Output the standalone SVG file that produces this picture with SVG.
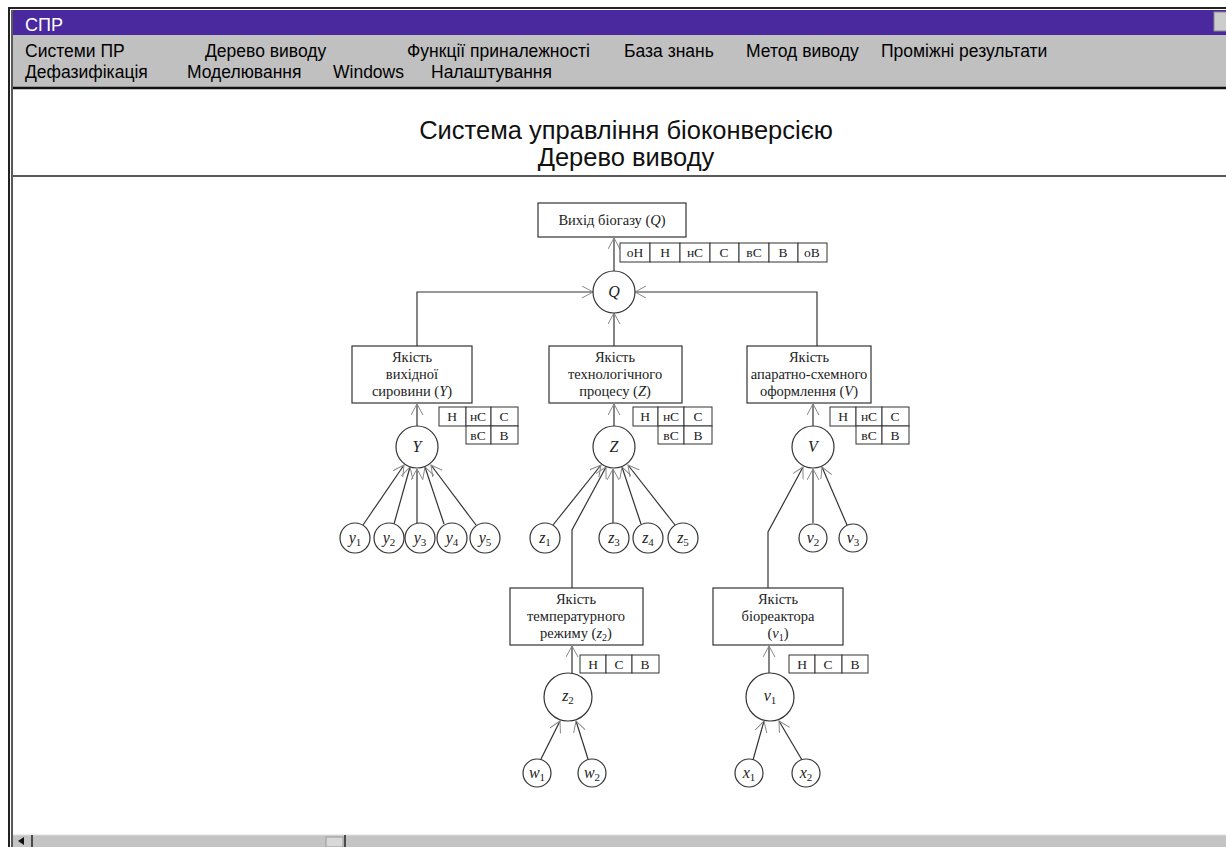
<svg xmlns="http://www.w3.org/2000/svg" width="1226" height="847" viewBox="0 0 1226 847">
<defs>
<marker id="arr" markerUnits="userSpaceOnUse" markerWidth="14" markerHeight="14" refX="11" refY="6" orient="auto">
<path d="M0,0 L11,6 L0,12" fill="none" stroke="#888" stroke-width="1"/>
</marker>
<style>
.menu{font-family:"Liberation Sans",Arial,sans-serif;font-size:17.5px;fill:#000}
.hdr{font-family:"Liberation Sans",Arial,sans-serif;font-size:25.5px;fill:#111;text-anchor:middle}
.box{fill:#fff;stroke:#333;stroke-width:1.2}
.cell{fill:#fff;stroke:#333;stroke-width:1}
.nd{fill:#fff;stroke:#333;stroke-width:1.2}
.t{font-family:"Liberation Serif","Times New Roman",serif;font-size:14.5px;fill:#222;text-anchor:middle}
.c{font-family:"Liberation Serif","Times New Roman",serif;font-size:13.5px;fill:#222;text-anchor:middle}
.v{font-family:"Liberation Serif","Times New Roman",serif;font-size:16px;font-style:italic;fill:#222;text-anchor:middle}
.sub{font-size:11px;font-style:normal}
.ln{fill:none;stroke:#333;stroke-width:1.2}
.ar{fill:none;stroke:#333;stroke-width:1.2;marker-end:url(#arr)}
</style>
</defs>
<rect x="0" y="0" width="1226" height="847" fill="#fff"/>
<g id="window">
<rect x="9" y="8" width="1220" height="845" fill="none" stroke="#222" stroke-width="2"/>
<line x1="12" y1="10" x2="12" y2="847" stroke="#222" stroke-width="1.5"/>
<rect x="13" y="10" width="1213" height="25" fill="#4a289e"/>
<text x="25" y="31" font-family="'Liberation Sans',Arial,sans-serif" font-size="18" fill="#fff">СПР</text>
<rect x="1214" y="12" width="14" height="19" fill="#ccc" stroke="#888"/>
<rect x="13" y="35" width="1213" height="52" fill="#c0c0c0"/>
<line x1="13" y1="88" x2="1226" y2="88" stroke="#111" stroke-width="2.5"/>
<line x1="13" y1="176" x2="1226" y2="176" stroke="#222" stroke-width="1.5"/>
<rect x="13" y="835" width="1213" height="12" fill="#c4c4c4"/>
<line x1="13" y1="835" x2="1226" y2="835" stroke="#ddd"/>
<path d="M18,841 L24,837 L24,845 Z" fill="#111"/>
<line x1="32" y1="835" x2="32" y2="847" stroke="#222" stroke-width="1.5"/>
<rect x="326" y="837" width="17" height="10" fill="#d8d8d8" stroke="#999"/>
<line x1="345" y1="835" x2="345" y2="847" stroke="#222" stroke-width="1.5"/>
</g>
<g id="menu">
<text class="menu" x="25" y="57">Системи ПР</text>
<text class="menu" x="205" y="57">Дерево виводу</text>
<text class="menu" x="407" y="57">Функції приналежності</text>
<text class="menu" x="624" y="57">База знань</text>
<text class="menu" x="746" y="57">Метод виводу</text>
<text class="menu" x="881" y="57">Проміжні результати</text>
<text class="menu" x="25" y="78">Дефазифікація</text>
<text class="menu" x="187" y="78">Моделювання</text>
<text class="menu" x="333" y="78">Windows</text>
<text class="menu" x="431" y="78">Налаштування</text>
</g>
<g id="header">
<text class="hdr" x="626" y="139">Система управління біоконверсією</text>
<text class="hdr" x="626" y="166">Дерево виводу</text>
</g>
<g id="connectors">
<line class="ar" x1="614" y1="271" x2="614" y2="238"/>
<polyline class="ar" points="417,346 417,292 593,292"/>
<polyline class="ar" points="817,346 817,292 635,292"/>
<line class="ar" x1="614" y1="346" x2="614" y2="313"/>
<line class="ar" x1="417" y1="426" x2="417" y2="404"/>
<line class="ar" x1="614" y1="426" x2="614" y2="404"/>
<line class="ar" x1="813" y1="426" x2="813" y2="404"/>
<line class="ar" x1="363" y1="525" x2="404" y2="465"/>
<line class="ar" x1="394" y1="524" x2="410" y2="467"/>
<line class="ar" x1="417" y1="523" x2="417" y2="469"/>
<line class="ar" x1="444" y1="524" x2="425" y2="467"/>
<line class="ar" x1="476" y1="525" x2="431" y2="465"/>
<line class="ar" x1="553" y1="525" x2="601" y2="465"/>
<polyline class="ar" points="572,588 572,530 606,467"/>
<line class="ar" x1="613" y1="523" x2="613" y2="469"/>
<line class="ar" x1="641" y1="524" x2="622" y2="467"/>
<line class="ar" x1="675" y1="525" x2="628" y2="465"/>
<polyline class="ar" points="768,588 768,532 803,467"/>
<line class="ar" x1="813" y1="523" x2="813" y2="469"/>
<line class="ar" x1="847" y1="525" x2="822" y2="467"/>
<line class="ar" x1="572" y1="673" x2="572" y2="646"/>
<line class="ar" x1="541" y1="759" x2="560" y2="721"/>
<line class="ar" x1="588" y1="759" x2="576" y2="721"/>
<line class="ar" x1="769" y1="673" x2="769" y2="646"/>
<line class="ar" x1="753" y1="760" x2="764" y2="721"/>
<line class="ar" x1="802" y1="760" x2="779" y2="721"/>
</g>
<g id="node-Qbox">
<rect class="box" x="538" y="203" width="148" height="34"/>
<text class="t" x="612" y="225">Вихід біогазу (<tspan font-style="italic">Q</tspan>)</text>
</g>
<g id="terms-Q">
<rect class="cell" x="620" y="243" width="30" height="19"/>
<rect class="cell" x="650" y="243" width="30" height="19"/>
<rect class="cell" x="680" y="243" width="30" height="19"/>
<rect class="cell" x="710" y="243" width="29" height="19"/>
<rect class="cell" x="739" y="243" width="30" height="19"/>
<rect class="cell" x="769" y="243" width="29" height="19"/>
<rect class="cell" x="798" y="243" width="29" height="19"/>
<text class="c" x="635" y="257">оН</text>
<text class="c" x="665" y="257">Н</text>
<text class="c" x="695" y="257">нС</text>
<text class="c" x="724" y="257">С</text>
<text class="c" x="754" y="257">вС</text>
<text class="c" x="783" y="257">В</text>
<text class="c" x="812" y="257">оВ</text>
</g>
<g id="node-Q">
<circle class="nd" cx="614" cy="292" r="21"/>
<text class="v" x="614" y="297">Q</text>
</g>
<g id="node-Ybox">
<rect class="box" x="352" y="346" width="120" height="57"/>
<text class="t" x="412" y="362">Якість</text>
<text class="t" x="412" y="379">вихідної</text>
<text class="t" x="412" y="396">сировини (<tspan font-style="italic">Y</tspan>)</text>
</g>
<g id="node-Zbox">
<rect class="box" x="549" y="346" width="133" height="57"/>
<text class="t" x="615" y="362">Якість</text>
<text class="t" x="615" y="379">технологічного</text>
<text class="t" x="615" y="396">процесу (<tspan font-style="italic">Z</tspan>)</text>
</g>
<g id="node-Vbox">
<rect class="box" x="747" y="346" width="124" height="57"/>
<text class="t" x="809" y="362">Якість</text>
<text class="t" x="809" y="379">апаратно-схемного</text>
<text class="t" x="809" y="396">оформлення (<tspan font-style="italic">V</tspan>)</text>
</g>
<g id="terms-Y">
<rect class="cell" x="439" y="407" width="27" height="19"/>
<rect class="cell" x="466" y="407" width="25" height="19"/>
<rect class="cell" x="491" y="407" width="27" height="19"/>
<rect class="cell" x="466" y="426" width="25" height="18"/>
<rect class="cell" x="491" y="426" width="27" height="18"/>
<text class="c" x="452" y="421">Н</text><text class="c" x="478" y="421">нС</text><text class="c" x="504" y="421">С</text>
<text class="c" x="478" y="440">вС</text><text class="c" x="504" y="440">В</text>
</g>
<g id="terms-Z">
<rect class="cell" x="633" y="407" width="25" height="19"/>
<rect class="cell" x="658" y="407" width="26" height="19"/>
<rect class="cell" x="684" y="407" width="28" height="19"/>
<rect class="cell" x="658" y="426" width="26" height="18"/>
<rect class="cell" x="684" y="426" width="28" height="18"/>
<text class="c" x="645" y="421">Н</text><text class="c" x="671" y="421">нС</text><text class="c" x="698" y="421">С</text>
<text class="c" x="671" y="440">вС</text><text class="c" x="698" y="440">В</text>
</g>
<g id="terms-V">
<rect class="cell" x="830" y="407" width="26" height="19"/>
<rect class="cell" x="856" y="407" width="26" height="19"/>
<rect class="cell" x="882" y="407" width="27" height="19"/>
<rect class="cell" x="856" y="426" width="26" height="18"/>
<rect class="cell" x="882" y="426" width="27" height="18"/>
<text class="c" x="843" y="421">Н</text><text class="c" x="869" y="421">нС</text><text class="c" x="895" y="421">С</text>
<text class="c" x="869" y="440">вС</text><text class="c" x="895" y="440">В</text>
</g>
<g id="node-Y"><circle class="nd" cx="417" cy="447" r="21"/><text class="v" x="417" y="452">Y</text></g>
<g id="node-Z"><circle class="nd" cx="614" cy="447" r="21"/><text class="v" x="614" y="452">Z</text></g>
<g id="node-V"><circle class="nd" cx="813" cy="447" r="21"/><text class="v" x="813" y="452">V</text></g>
<g id="node-y1"><circle class="nd" cx="355" cy="538" r="15"/><text class="v" x="355" y="543">y<tspan class="sub" dy="3">1</tspan></text></g>
<g id="node-y2"><circle class="nd" cx="389" cy="538" r="15"/><text class="v" x="389" y="543">y<tspan class="sub" dy="3">2</tspan></text></g>
<g id="node-y3"><circle class="nd" cx="420" cy="538" r="15"/><text class="v" x="420" y="543">y<tspan class="sub" dy="3">3</tspan></text></g>
<g id="node-y4"><circle class="nd" cx="452" cy="538" r="15"/><text class="v" x="452" y="543">y<tspan class="sub" dy="3">4</tspan></text></g>
<g id="node-y5"><circle class="nd" cx="485" cy="538" r="15"/><text class="v" x="485" y="543">y<tspan class="sub" dy="3">5</tspan></text></g>
<g id="node-z1"><circle class="nd" cx="545" cy="538" r="15"/><text class="v" x="545" y="543">z<tspan class="sub" dy="3">1</tspan></text></g>
<g id="node-z3"><circle class="nd" cx="614" cy="538" r="15"/><text class="v" x="614" y="543">z<tspan class="sub" dy="3">3</tspan></text></g>
<g id="node-z4"><circle class="nd" cx="648" cy="538" r="15"/><text class="v" x="648" y="543">z<tspan class="sub" dy="3">4</tspan></text></g>
<g id="node-z5"><circle class="nd" cx="683" cy="538" r="15"/><text class="v" x="683" y="543">z<tspan class="sub" dy="3">5</tspan></text></g>
<g id="node-v2"><circle class="nd" cx="813" cy="538" r="14"/><text class="v" x="813" y="543">v<tspan class="sub" dy="3">2</tspan></text></g>
<g id="node-v3"><circle class="nd" cx="853" cy="538" r="14"/><text class="v" x="853" y="543">v<tspan class="sub" dy="3">3</tspan></text></g>
<g id="node-z2box">
<rect class="box" x="510" y="588" width="133" height="57"/>
<text class="t" x="576" y="604">Якість</text>
<text class="t" x="576" y="621">температурного</text>
<text class="t" x="576" y="638">режиму (<tspan font-style="italic">z</tspan><tspan font-size="10" dy="3">2</tspan><tspan dy="-3">)</tspan></text>
</g>
<g id="terms-z2">
<rect class="cell" x="580" y="655" width="26" height="18"/>
<rect class="cell" x="606" y="655" width="26" height="18"/>
<rect class="cell" x="632" y="655" width="27" height="18"/>
<text class="c" x="593" y="669">Н</text><text class="c" x="619" y="669">С</text><text class="c" x="645" y="669">В</text>
</g>
<g id="node-v1box">
<rect class="box" x="713" y="588" width="130" height="57"/>
<text class="t" x="778" y="604">Якість</text>
<text class="t" x="778" y="621">біореактора</text>
<text class="t" x="778" y="638">(<tspan font-style="italic">v</tspan><tspan font-size="10" dy="3">1</tspan><tspan dy="-3">)</tspan></text>
</g>
<g id="terms-v1">
<rect class="cell" x="789" y="655" width="26" height="18"/>
<rect class="cell" x="815" y="655" width="27" height="18"/>
<rect class="cell" x="842" y="655" width="26" height="18"/>
<text class="c" x="802" y="669">Н</text><text class="c" x="828" y="669">С</text><text class="c" x="855" y="669">В</text>
</g>
<g id="node-z2"><circle class="nd" cx="568" cy="697" r="24"/><text class="v" x="568" y="701">z<tspan class="sub" dy="3">2</tspan></text></g>
<g id="node-v1"><circle class="nd" cx="770" cy="697" r="24"/><text class="v" x="770" y="701">v<tspan class="sub" dy="3">1</tspan></text></g>
<g id="node-w1"><circle class="nd" cx="537" cy="773" r="14"/><text class="v" x="537" y="778">w<tspan class="sub" dy="3">1</tspan></text></g>
<g id="node-w2"><circle class="nd" cx="592" cy="773" r="14"/><text class="v" x="592" y="778">w<tspan class="sub" dy="3">2</tspan></text></g>
<g id="node-x1"><circle class="nd" cx="749" cy="773" r="14"/><text class="v" x="749" y="778">x<tspan class="sub" dy="3">1</tspan></text></g>
<g id="node-x2"><circle class="nd" cx="806" cy="773" r="14"/><text class="v" x="806" y="778">x<tspan class="sub" dy="3">2</tspan></text></g>
</svg>
